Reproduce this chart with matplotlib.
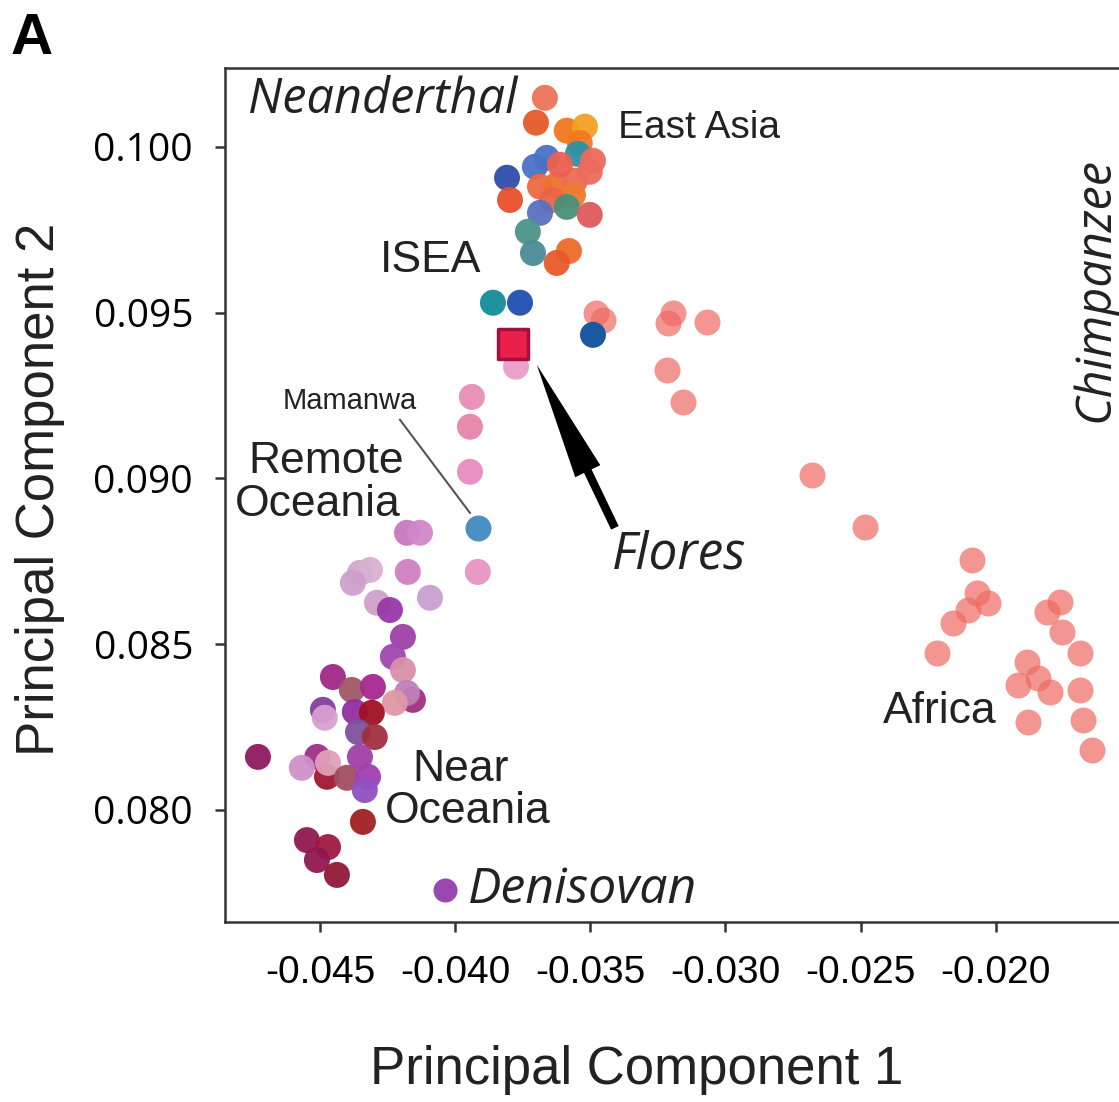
import matplotlib
matplotlib.use("Agg")
import matplotlib.pyplot as plt

plt.rcParams['axes.unicode_minus'] = False

# --- data (PC1, PC2) ---
africa_pc1 = [-0.03479, -0.03453, -0.03195, -0.03213, -0.03069, -0.03217, -0.03158,
              -0.02681, -0.02485, -0.02089, -0.02070, -0.02030, -0.02104, -0.02159,
              -0.02218, -0.01764, -0.01812, -0.01756, -0.01690, -0.01886, -0.01845,
              -0.01919, -0.01800, -0.01690, -0.01882, -0.01678, -0.01645]
africa_pc2 = [0.09499, 0.09478, 0.09499, 0.09469, 0.09472, 0.09327, 0.09231,
              0.09011, 0.08854, 0.08754, 0.08655, 0.08625, 0.08603, 0.08564,
              0.08474, 0.08628, 0.08597, 0.08537, 0.08474, 0.08447, 0.08398,
              0.08377, 0.08356, 0.08362, 0.08265, 0.08272, 0.08181]

east_asia_pc1 = [-0.03668, -0.03701, -0.03587, -0.03520, -0.03539, -0.03546, -0.03490,
                 -0.03661, -0.03705, -0.03808, -0.03797, -0.03686, -0.03624, -0.03557,
                 -0.03502, -0.03612, -0.03564, -0.03642, -0.03686, -0.03587, -0.03502,
                 -0.03731, -0.03712, -0.03579, -0.03624]
east_asia_pc2 = [0.10148, 0.10073, 0.10049, 0.10061, 0.10012, 0.09979, 0.09958,
                 0.09967, 0.09940, 0.09907, 0.09840, 0.09880, 0.09886, 0.09898,
                 0.09925, 0.09946, 0.09855, 0.09840, 0.09801, 0.09819, 0.09795,
                 0.09744, 0.09680, 0.09686, 0.09650]
east_asia_colors = ['#ec7458', '#e65a28', '#f07820', '#f4a024', '#f07a22', '#2a92a8', '#ee6a5a',
                    '#4a72c4', '#4a72c4', '#2e4eaa', '#e8502a', '#ec6a40', '#ee7030', '#ee6a58',
                    '#ee6a5a', '#ee6050', '#f07a30', '#ec6448', '#5a70c0', '#4a9078', '#e05a5a',
                    '#4a9488', '#4a8c98', '#ec6a28', '#e85a28']

isea_pc1 = [-0.03860, -0.03760, -0.03490]
isea_pc2 = [0.09530, 0.09530, 0.09433]
isea_colors = ['#1f929e', '#2a58b4', '#1a58a2']

pink_pc1 = [-0.03775, -0.03938, -0.03945, -0.03945, -0.03916]
pink_pc2 = [0.09337, 0.09246, 0.09156, 0.09020, 0.08718]
pink_colors = ['#eaa2cc', '#e892bc', '#e88aae', '#e892c2', '#e89ac4']

remote_pc1 = [-0.04178, -0.04130, -0.04352, -0.04315, -0.04378, -0.04175, -0.04289,
              -0.04241, -0.04093]
remote_pc2 = [0.08836, 0.08836, 0.08715, 0.08724, 0.08685, 0.08718, 0.08625,
              0.08603, 0.08640]
remote_colors = ['#c878c0', '#d088c8', '#d4a4d0', '#d8b0d0', '#d0a0cc', '#d080c0', '#d0a0c8',
                 '#9838a8', '#c8a0d0']

near_pc1 = [-0.04193, -0.04230, -0.04193, -0.04452, -0.04382, -0.04304, -0.04156,
            -0.04178, -0.04223, -0.04489, -0.04482, -0.04371, -0.04308, -0.04359,
            -0.04297, -0.04729, -0.04510, -0.04567, -0.04474, -0.04470, -0.04400,
            -0.04352, -0.04322, -0.04334, -0.04341, -0.04548, -0.04470, -0.04511,
            -0.04437]
near_pc2 = [0.08522, 0.08462, 0.08422, 0.08401, 0.08362, 0.08371, 0.08332,
            0.08353, 0.08323, 0.08302, 0.08278, 0.08296, 0.08293, 0.08235,
            0.08220, 0.08160, 0.08160, 0.08127, 0.08100, 0.08142, 0.08097,
            0.08160, 0.08100, 0.08060, 0.07964, 0.07909, 0.07888, 0.07849,
            0.07804]
near_colors = ['#a040a8', '#a048b0', '#d890a8', '#a02888', '#a05868', '#a82890', '#a03080',
               '#c080b8', '#e098a8', '#8040a0', '#d8a0d0', '#9030a0', '#a01020', '#8050a0',
               '#a03040', '#901860', '#a03088', '#d090c8', '#a01830', '#e0a0b8', '#a05060',
               '#a040a8', '#a040b0', '#9050c0', '#a02020', '#901850', '#a01840', '#901850',
               '#901838']

mamanwa_pc1, mamanwa_pc2 = [-0.03916], [0.08851]
flores_pc1, flores_pc2 = [-0.03786], [0.09406]
denisovan_pc1, denisovan_pc2 = [-0.04038], [0.07759]

xticks = [-0.045, -0.040, -0.035, -0.030, -0.025, -0.020]
yticks = [0.080, 0.085, 0.090, 0.095, 0.100]

# --- figure ---
W, H = 1119, 1102
fig = plt.figure(figsize=(W / 100, H / 100), dpi=100)
ax = fig.add_axes([225 / W, 1 - 922 / H, 905 / W, 854 / H])

ms = 350
ax.scatter(africa_pc1, africa_pc2, s=ms, color='#ee6a62', alpha=0.7, linewidths=0, zorder=2)
ax.scatter(remote_pc1, remote_pc2, s=ms, c=remote_colors, alpha=0.95, linewidths=0, zorder=3)
ax.scatter(near_pc1, near_pc2, s=ms, c=near_colors, alpha=0.95, linewidths=0, zorder=3)
ax.scatter(pink_pc1, pink_pc2, s=ms, c=pink_colors, linewidths=0, zorder=3)
ax.scatter(east_asia_pc1, east_asia_pc2, s=ms, c=east_asia_colors, alpha=0.95, linewidths=0, zorder=4)
ax.scatter(isea_pc1, isea_pc2, s=ms, c=isea_colors, linewidths=0, zorder=4)
ax.scatter(mamanwa_pc1, mamanwa_pc2, s=ms, color='#4a90c4', linewidths=0, zorder=4)
ax.scatter(denisovan_pc1, denisovan_pc2, s=300, color='#9848b0', linewidths=0, zorder=4)
ax.scatter(flores_pc1, flores_pc2, s=440, marker='s', color='#e8204a',
           edgecolors='#a01040', linewidths=2.5, zorder=5)

ax.set_xlim(-0.04851, -0.01504)
ax.set_ylim(0.07662, 0.10238)
ax.set_xticks(xticks)
ax.set_yticks(yticks)
ax.set_xticklabels([f"{v:.3f}" for v in xticks], fontsize=28, family='Liberation Sans')
ax.set_yticklabels([f"{v:.3f}" for v in yticks], fontsize=28, family='Open Sans')
ax.tick_params(axis='both', direction='out', length=7, width=1.8, color='#333333')
ax.tick_params(axis='x', pad=17)
ax.tick_params(axis='y', pad=16)
for side in ['left', 'top', 'bottom']:
    ax.spines[side].set_linewidth(1.8)
    ax.spines[side].set_color('#333333')
ax.spines['right'].set_visible(False)

# labels inside the plot
txt = dict(family='Liberation Sans', color='#222222', zorder=6)
ital = dict(family='Open Sans', style='italic', color='#222222', zorder=6)
ax.text(-0.04766, 0.10142, 'Neanderthal', fontsize=35, va='center', ha='left', **ital)
ax.text(-0.03398, 0.10058, 'East Asia', fontsize=28, va='center', ha='left', **txt)
ax.text(-0.04278, 0.09658, 'ISEA', fontsize=32, va='center', ha='left', **txt)
ax.text(-0.04637, 0.09234, 'Mamanwa', fontsize=21, va='center', ha='left', **txt)
ax.text(-0.04478, 0.09050, 'Remote', fontsize=32, va='center', ha='center', **txt)
ax.text(-0.04507, 0.08920, 'Oceania', fontsize=32, va='center', ha='center', **txt)
ax.text(-0.03979, 0.08122, 'Near', fontsize=32, va='center', ha='center', **txt)
ax.text(-0.03953, 0.07995, 'Oceania', fontsize=32, va='center', ha='center', **txt)
ax.text(-0.03420, 0.08769, 'Flores', fontsize=37, va='center', ha='left', **ital)
ax.text(-0.03953, 0.07759, 'Denisovan', fontsize=36, va='center', ha='left', **ital)
ax.text(-0.02418, 0.08296, 'Africa', fontsize=32, va='center', ha='left', **txt)
ax.text(-0.01630, 0.09569, 'Chimpanzee', fontsize=35, rotation=90, va='center', ha='center', **ital)

# leader line for Mamanwa and arrow for Flores
ax.plot([-0.04204, -0.03945], [0.09177, 0.08896], color='#555555', lw=1.5, zorder=3)
ax.annotate('', xy=(-0.03698, 0.09343), xytext=(-0.03409, 0.08851),
            arrowprops=dict(arrowstyle='simple,head_length=0.85,head_width=0.2,tail_width=0.06',
                            mutation_scale=100, lw=0, color='black',
                            shrinkA=0, shrinkB=0), zorder=6)

# axis titles and panel letter
fig.text(637 / W, 1 - 1070 / H, 'Principal Component 1', fontsize=38,
         family='Liberation Sans', ha='center', va='center', color='#222222')
fig.text(40 / W, 1 - 489 / H, 'Principal Component 2', fontsize=38, rotation=90,
         family='Liberation Sans', ha='center', va='center', color='#222222')
fig.text(32 / W, 1 - 39 / H, 'A', fontsize=42, weight='bold', family='Liberation Sans',
         ha='center', va='center')

fig.savefig('out.png', dpi=100)
